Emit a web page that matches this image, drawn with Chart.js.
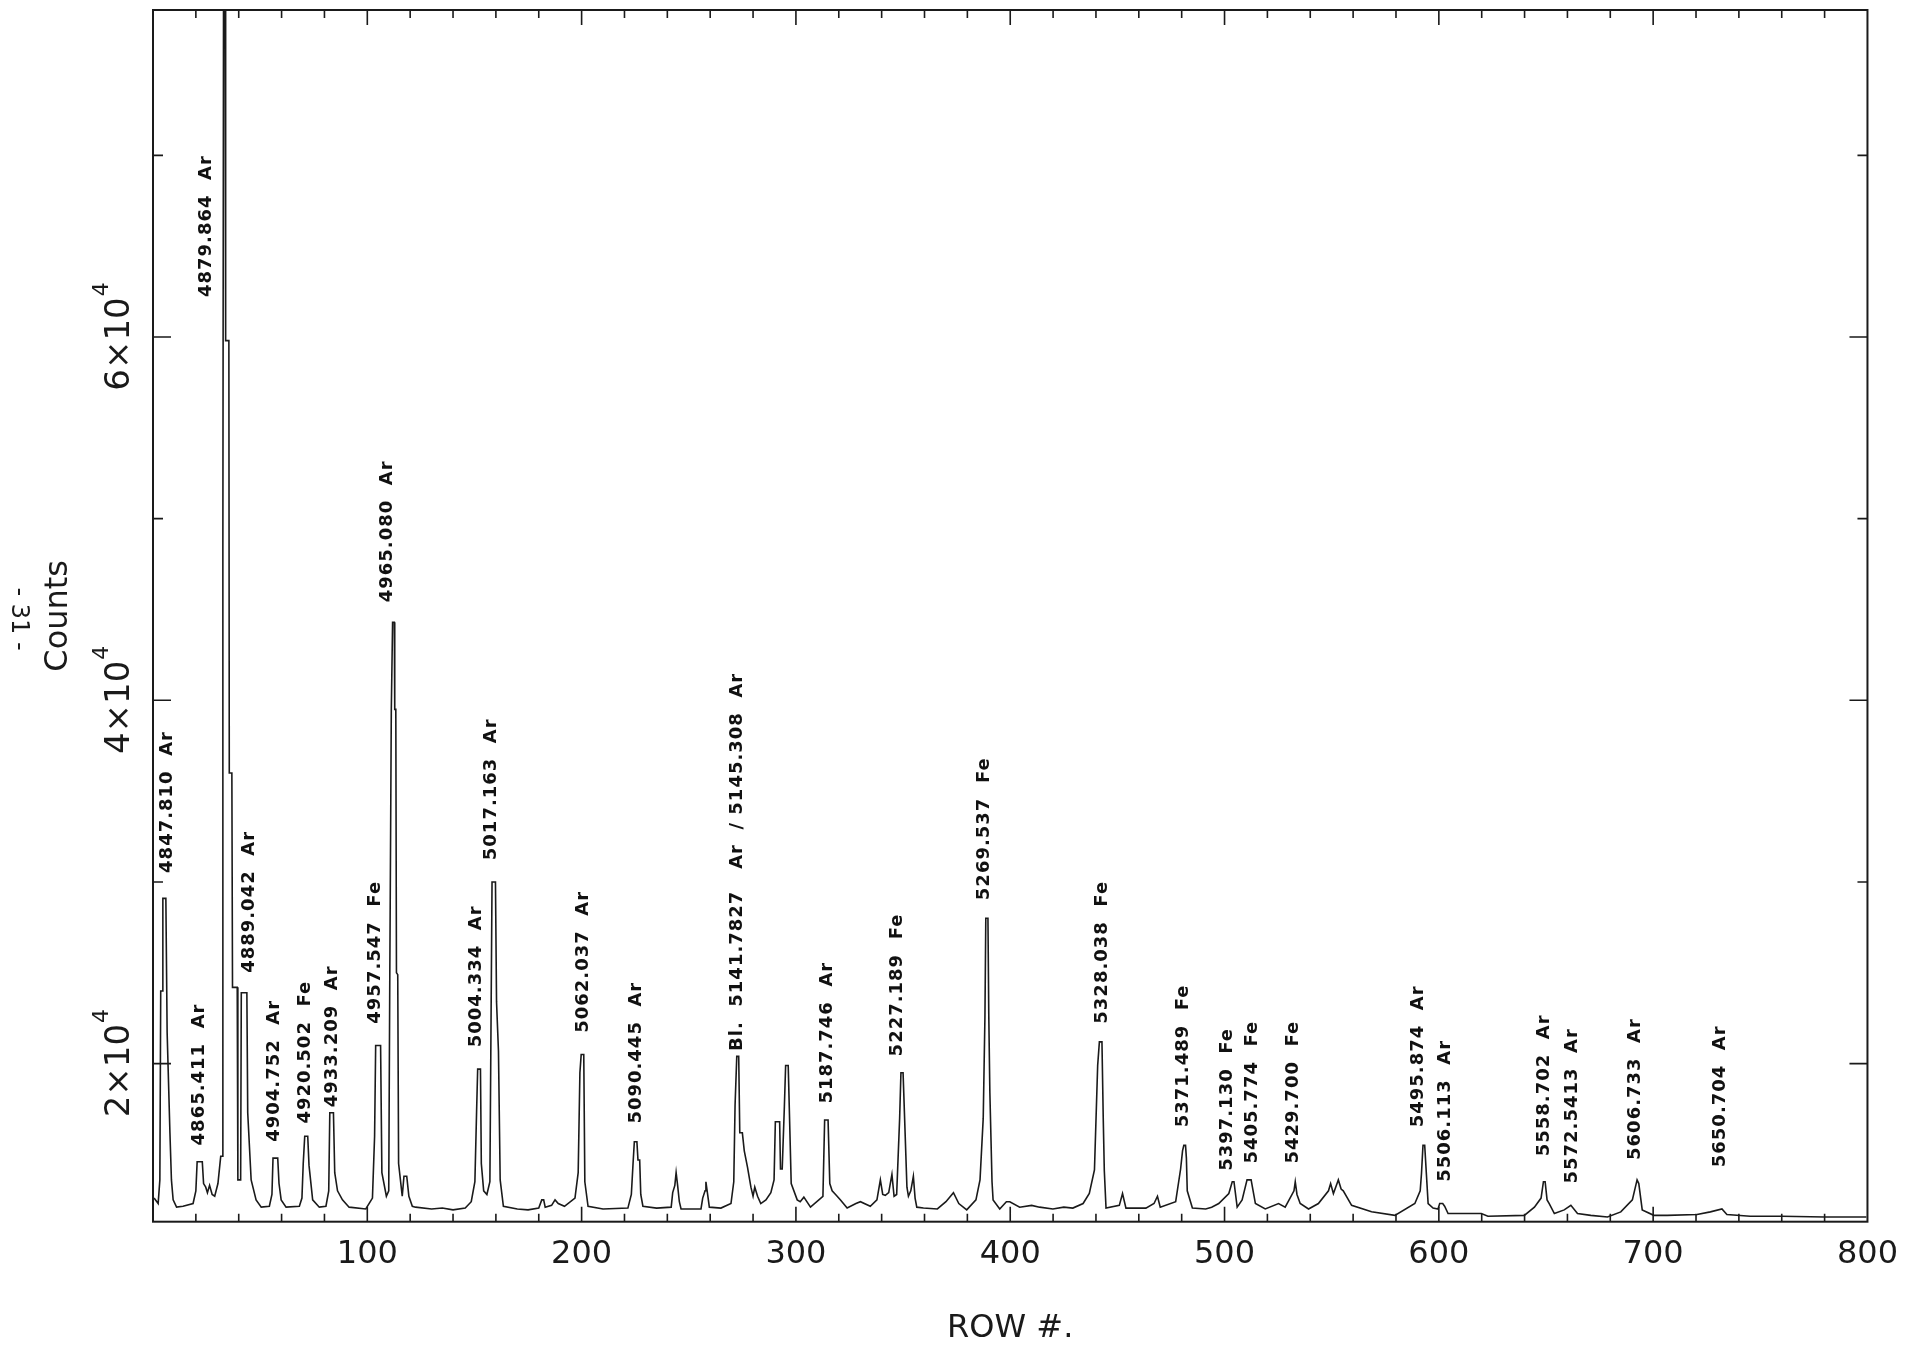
<!DOCTYPE html>
<html>
<head>
<meta charset="utf-8">
<script src="https://cdn.jsdelivr.net/npm/chart.js@4.4.1/dist/chart.umd.min.js"></script>
<style>
  html, body { margin: 0; padding: 0; background: #fff; }
  canvas { display: block; }
</style>
</head>
<body>
<canvas id="spectrum" width="1912" height="1351"></canvas>
<script>
// row number along the slit and the counts
var rows = [
  0.5, 2.4, 3.2, 3.6, 4.4, 4.6, 6.0, 6.6, 7.9, 8.6, 9.4, 11.0, 14.0, 18.7, 20.0, 20.6, 23.0, 23.6, 24.6, 25.4,
  26.4, 27.6, 28.8, 30.3, 31.6, 32.4, 32.6, 32.9, 33.6, 33.9, 35.4, 35.6, 36.8, 37.1, 39.3, 39.6, 40.9, 41.2, 43.8, 44.2,
  45.8, 48.1, 50.5, 54.3, 55.5, 56.0, 58.2, 58.8, 59.8, 62.1, 68.3, 69.5, 70.1, 70.8, 72.2, 72.8, 74.5, 77.6, 80.7, 82.0,
  82.5, 84.2, 84.8, 86.1, 88.4, 91.5, 99.3, 102.4, 103.4, 103.9, 106.2, 106.8, 108.9, 110.0, 110.5, 111.2, 111.8, 112.6, 112.8, 113.3,
  113.6, 114.2, 114.6, 116.3, 117.1, 118.4, 119.4, 121.0, 122.5, 130, 135, 140, 145.7, 148.5, 150.2, 151.0, 151.5, 152.8, 153.2, 154.3,
  155.8, 157.2, 157.8, 158.2, 159.8, 160.3, 161.2, 162.0, 163.5, 170, 175, 180, 181.4, 182.3, 183.0, 186.0, 187.6, 189.1, 192, 196.9,
  198.4, 199.2, 199.8, 201.0, 201.5, 203.0, 210, 221.6, 223.2, 224.0, 224.6, 225.8, 226.3, 227.1, 227.6, 228.6, 235, 241.8, 242.5, 243.5,
  244.1, 244.8, 245.6, 246.4, 255.7, 256.5, 257.6, 258.0, 258.8, 259.6, 265, 269.7, 271.0, 271.6, 272.4, 273.3, 273.8, 275.0, 275.9, 277.4,
  279.0, 280.0, 280.8, 282.1, 283.6, 286, 288.3, 289.8, 290.4, 292.4, 292.8, 293.6, 294.6, 295.2, 296.4, 296.9, 297.8, 300.6, 302, 303.7,
  306.8, 312.6, 313.4, 315.0, 315.8, 316.9, 318.5, 320.8, 323.9, 328, 330.1, 334.7, 337.8, 339.4, 340.5, 341.7, 343.3, 344.8, 345.8, 347.0,
  348.4, 349.0, 350.0, 350.6, 351.8, 352.5, 353.6, 354.8, 355.6, 356.4, 359.5, 366, 370, 373.5, 376, 379.7, 384, 385.9, 387.4, 388.2,
  388.6, 389.6, 390.0, 390.5, 391.5, 392.0, 395.1, 398.2, 399.8, 404.4, 410, 413.7, 419.9, 425, 429.2, 434, 436.9, 439.3, 440.8, 441.6,
  442.8, 443.4, 443.9, 444.7, 450.9, 452.4, 454.0, 463.3, 467.1, 468.7, 470, 477.2, 479.5, 480.4, 481.0, 481.8, 482.2, 482.6, 485.0, 491.2,
  494, 497.3, 502.0, 503.6, 504.4, 505.9, 508.2, 510.5, 512.4, 514.4, 519.0, 525.2, 528.3, 532.4, 533.0, 533.8, 535.3, 539.2, 543.8, 548.5,
  549.5, 550.8, 552.5, 553.1, 554.4, 555.4, 559.3, 568.6, 579.5, 588.8, 591.3, 591.9, 592.6, 593.4, 594.2, 595.0, 597.3, 599.6, 600.4, 601.8,
  602.7, 604.3, 619.8, 622.9, 639.9, 644.6, 647.7, 648.8, 649.6, 650.5, 651.5, 653.9, 658.5, 661.6, 664.7, 670.9, 678.7, 684.9, 690.3, 692.5,
  693.3, 694.9, 700.3, 706.5, 720.5, 726.7, 732.1, 734.4, 745.3, 760, 780, 799.5
];
var counts = [
  12600, 12300, 13600, 24000, 24000, 29100, 29100, 21700, 16200, 13600, 12500, 12100, 12150, 12300, 13000, 14600, 14600, 13400, 13200, 12900,
  13300, 12800, 12700, 13400, 14900, 14900, 48400, 78000, 78000, 59800, 59800, 36000, 36000, 24200, 24200, 13600, 13600, 23900, 23900, 17300,
  13600, 12500, 12100, 12150, 12800, 14800, 14800, 13400, 12500, 12100, 12150, 12600, 14500, 16000, 16000, 14400, 12500, 12100, 12150, 13000,
  17300, 17300, 14000, 13000, 12500, 12100, 12000, 12600, 16000, 21000, 21000, 14000, 12700, 13000, 25000, 39500, 44300, 44300, 39500, 39500,
  25000, 24900, 14500, 12700, 13800, 13800, 12700, 12150, 12100, 12000, 12050, 11950, 12050, 12400, 13500, 17400, 19700, 19700, 14500, 13000,
  12800, 13500, 23400, 30000, 30000, 23400, 20700, 13600, 12150, 12000, 11950, 12050, 12500, 12500, 12100, 12200, 12500, 12300, 12150, 12600,
  14000, 19500, 20500, 20500, 13500, 12150, 12000, 12050, 12800, 14500, 15700, 15700, 14700, 14700, 12800, 12150, 12050, 12100, 12900, 13300,
  14000, 13300, 12400, 12000, 12000, 12600, 13000, 13500, 12800, 12100, 12050, 12300, 13500, 17700, 20400, 20400, 16200, 16200, 15200, 14300,
  13200, 12700, 13200, 12700, 12300, 12500, 12900, 13600, 16800, 16800, 14200, 14200, 17600, 19900, 19900, 17600, 13400, 12500, 12400, 12650,
  12100, 12700, 16900, 16900, 13400, 13000, 12800, 12500, 12050, 12300, 12400, 12150, 12500, 13600, 12800, 12750, 12900, 13900, 12700, 12800,
  17000, 19500, 19500, 17400, 13200, 12700, 13000, 13800, 12600, 12100, 12050, 12000, 12400, 12900, 12300, 11950, 12500, 13600, 17000, 22600,
  28000, 28000, 22600, 18400, 13500, 12500, 12000, 12400, 12400, 12100, 12200, 12100, 12000, 12100, 12050, 12300, 12850, 14150, 19900, 21200,
  21200, 17000, 14100, 12050, 12200, 12850, 12050, 12050, 12300, 12700, 12100, 12400, 14200, 15200, 15500, 15500, 14800, 13000, 12050, 12000,
  12100, 12300, 12850, 13500, 13500, 12100, 12500, 13600, 13600, 12300, 12000, 12300, 12100, 13000, 13500, 12800, 12300, 12000, 12300, 13000,
  13400, 12850, 13400, 13600, 13100, 13000, 12200, 11850, 11650, 12300, 13000, 13950, 15500, 15500, 13900, 12300, 12050, 12000, 12300, 12300,
  12150, 11750, 11750, 11600, 11650, 12100, 12600, 13500, 13500, 12500, 12300, 11750, 11950, 12200, 11750, 11650, 11560, 11840, 12500, 13600,
  13400, 11950, 11650, 11650, 11700, 11840, 12000, 11700, 11600, 11600, 11560, 11560
];

// hand-written line identifications: text, and where each one starts (row, counts)
var lineNames = [
  '4847.810  Ar', '4865.411  Ar', '4879.864  Ar', '4889.042  Ar', '4904.752  Ar', '4920.502  Fe', '4933.209  Ar',
  '4957.547  Fe', '4965.080  Ar', '5004.334  Ar', '5017.163  Ar', '5062.037  Ar', '5090.445  Ar',
  'Bl.  5141.7827   Ar  / 5145.308  Ar', '5187.746  Ar', '5227.189  Fe', '5269.537  Fe', '5328.038  Fe',
  '5371.489  Fe', '5397.130  Fe', '5405.774  Fe', '5429.700  Fe', '5495.874  Ar', '5506.113  Ar',
  '5558.702  Ar', '5572.5413  Ar', '5606.733  Ar', '5650.704  Ar'
];
var nameRows = [
  6.9, 21.8, 24.9, 45.0, 56.7, 70.9, 83.6, 103.9, 109.2, 151.0, 158.0, 200.7, 225.4, 272.8,
  314.6, 347.1, 388.0, 443.2, 481.0, 501.3, 512.9, 532.1, 590.2, 602.8, 649.2, 662.2, 691.8, 731.3
];
var nameCounts = [
  30500, 15500, 62200, 25000, 15700, 16700, 17600, 22200, 45400, 20900, 31200, 21700, 16700, 20700,
  17800, 20400, 29000, 22200, 16500, 14100, 14500, 14500, 16500, 13500, 14900, 13400, 14700, 14300
];

var majorY = [20000, 40000, 60000];
var minorY = [30000, 50000, 70000];

var ink = '#1a1a1a';
var thinFont = '"DejaVu Sans", sans-serif';

var framePlugin = {
  id: 'frame',
  afterDatasetsDraw: function (chart) {
    var ctx = chart.ctx;
    var a = chart.chartArea;
    var xs = chart.scales.x;
    var ys = chart.scales.y;
    ctx.save();
    ctx.strokeStyle = ink;
    ctx.lineWidth = 2;
    ctx.strokeRect(a.left, a.top, a.right - a.left, a.bottom - a.top);

    // inward ticks, bottom and top
    ctx.lineWidth = 1.6;
    ctx.beginPath();
    for (var v = 20; v < 800; v += 20) {
      var px = xs.getPixelForValue(v);
      var len = (v % 100 === 0) ? 15 : 8;
      ctx.moveTo(px, a.bottom); ctx.lineTo(px, a.bottom - len);
      ctx.moveTo(px, a.top); ctx.lineTo(px, a.top + len);
    }
    // inward ticks, left and right
    majorY.concat(minorY).forEach(function (c) {
      var py = ys.getPixelForValue(c);
      var len = majorY.indexOf(c) >= 0 ? 18 : 10;
      ctx.moveTo(a.left, py); ctx.lineTo(a.left + len, py);
      ctx.moveTo(a.right, py); ctx.lineTo(a.right - len, py);
    });
    ctx.stroke();

    // y tick labels, written sideways with a raised exponent
    ctx.fillStyle = ink;
    majorY.forEach(function (c) {
      var py = ys.getPixelForValue(c);
      var main = (c / 10000) + '\u00d710';
      ctx.save();
      ctx.translate(a.left - 24, py);
      ctx.rotate(-Math.PI / 2);
      ctx.font = '34px ' + thinFont;
      var w1 = ctx.measureText(main).width;
      ctx.font = '22px ' + thinFont;
      var w2 = ctx.measureText('4').width;
      var start = -(w1 + w2) / 2;
      ctx.textBaseline = 'alphabetic';
      ctx.textAlign = 'left';
      ctx.font = '34px ' + thinFont;
      ctx.fillText(main, start, 0);
      ctx.font = '22px ' + thinFont;
      ctx.fillText('4', start + w1 + 1, -21);
      ctx.restore();
    });

    // line identifications
    ctx.font = 'bold 18px ' + thinFont;
    ctx.letterSpacing = '1px';
    ctx.fillStyle = '#111';
    ctx.textAlign = 'left';
    ctx.textBaseline = 'middle';
    lineNames.forEach(function (t, i) {
      var px = xs.getPixelForValue(nameRows[i]);
      var py = ys.getPixelForValue(nameCounts[i]);
      ctx.save();
      ctx.translate(px, py);
      ctx.rotate(-Math.PI / 2);
      ctx.fillText(t, 0, 0);
      ctx.restore();
    });
    ctx.letterSpacing = '0px';

    // page number in the margin
    ctx.save();
    ctx.translate(18, 619);
    ctx.rotate(Math.PI / 2);
    ctx.font = '24px ' + thinFont;
    ctx.fillStyle = ink;
    ctx.textAlign = 'center';
    ctx.textBaseline = 'middle';
    ctx.fillText('- 31 -', 0, 0);
    ctx.restore();
    ctx.restore();
  }
};

var ctx = document.getElementById('spectrum').getContext('2d');
var spectrum = new Chart(ctx, {
  type: 'line',
  data: {
    datasets: [{
      data: rows.map(function (r, i) { return { x: r, y: counts[i] }; }),
      borderColor: ink,
      borderWidth: 1.6,
      pointRadius: 0,
      tension: 0,
      fill: false,
      clip: 0
    }]
  },
  options: {
    responsive: false,
    animation: false,
    events: [],
    layout: { padding: { top: 10, right: 37.5, left: 0, bottom: 0 } },
    plugins: { legend: { display: false }, tooltip: { enabled: false } },
    scales: {
      x: {
        type: 'linear',
        position: 'bottom',
        min: 0,
        max: 800,
        afterFit: function (s) { s.height = 129.3; },
        grid: { display: false, drawTicks: false },
        border: { display: false },
        ticks: {
          stepSize: 100,
          padding: 14,
          color: ink,
          font: { family: thinFont, size: 32 },
          maxRotation: 0,
          callback: function (v) { return v === 0 ? '' : v; }
        },
        title: {
          display: true,
          text: 'ROW #.',
          color: ink,
          font: { family: thinFont, size: 32 },
          padding: { top: 0, bottom: 3 }
        }
      },
      y: {
        type: 'linear',
        min: 11300,
        max: 78000,
        afterFit: function (s) { s.width = 153; },
        grid: { display: false, drawTicks: false },
        border: { display: false },
        ticks: { display: false },
        title: {
          display: true,
          text: 'Counts',
          color: ink,
          font: { family: thinFont, size: 32 },
          padding: { top: 39, bottom: 0 }
        }
      }
    }
  },
  plugins: [framePlugin]
});
</script>
</body>
</html>
